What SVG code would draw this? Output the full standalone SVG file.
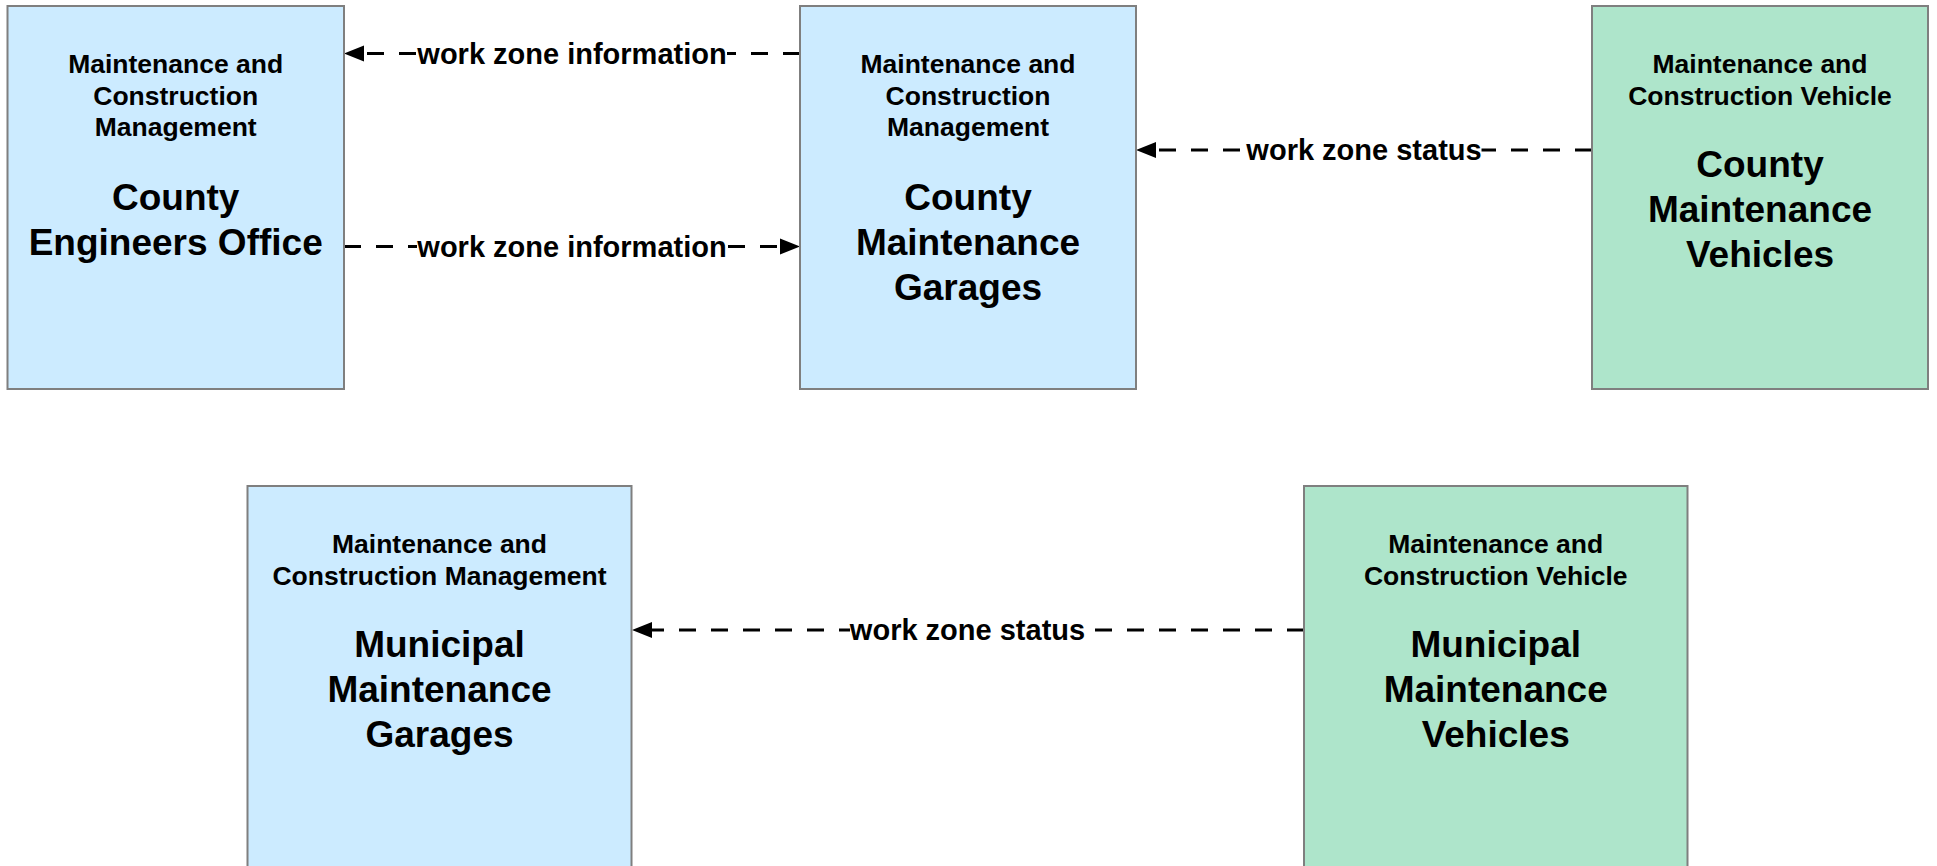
<svg xmlns="http://www.w3.org/2000/svg" width="1937" height="866" viewBox="0 0 1937 866">
<style>
.blue{fill:#CCEBFF;stroke:#7F7F7F;stroke-width:2}
.green{fill:#AEE5CB;stroke:#7F7F7F;stroke-width:2}
text{font-family:"Liberation Sans",Arial,sans-serif;font-weight:bold;fill:#000;text-anchor:middle}
.s{font-size:26.5px}
.b{font-size:37px}
.l{font-size:29px}
.flow{fill:none;stroke:#000;stroke-width:3;stroke-dasharray:17 15;marker-end:url(#ah)}
.bg{fill:#fff}
</style>
<defs>
<marker id="ah" markerUnits="userSpaceOnUse" markerWidth="20" markerHeight="18" viewBox="0 -9 20 18" refX="0" refY="0" orient="auto">
<path d="M0,-8 L20,0 L0,8 z" fill="#000"/>
</marker>
</defs>
<g id="connectors">
<path class="flow" d="M800,53.5 L364,53.5"/>
<rect class="bg" x="417" y="40" width="310" height="28"/>
<text class="l" x="572" y="63.5">work zone information</text>
<path class="flow" d="M344,246.5 L780,246.5"/>
<rect class="bg" x="417" y="233" width="310" height="28"/>
<text class="l" x="572" y="256.5">work zone information</text>
<path class="flow" d="M1592,150 L1156,150"/>
<rect class="bg" x="1246.5" y="136" width="235" height="28"/>
<text class="l" x="1364" y="160">work zone status</text>
<path class="flow" d="M1304,630 L652,630"/>
<rect class="bg" x="850" y="616" width="235" height="28"/>
<text class="l" x="967.5" y="640">work zone status</text>
</g>
<g id="county-engineers-office">
<rect class="blue" x="7.5" y="6" width="336.5" height="383"/>
<text class="s" x="175.7" y="72.5">Maintenance and</text>
<text class="s" x="175.7" y="104.5">Construction</text>
<text class="s" x="175.7" y="136">Management</text>
<text class="b" x="175.7" y="210">County</text>
<text class="b" x="175.7" y="255">Engineers Office</text>
</g>
<g id="county-maintenance-garages">
<rect class="blue" x="800" y="6" width="336" height="383"/>
<text class="s" x="968" y="72.5">Maintenance and</text>
<text class="s" x="968" y="104.5">Construction</text>
<text class="s" x="968" y="136">Management</text>
<text class="b" x="968" y="210">County</text>
<text class="b" x="968" y="255">Maintenance</text>
<text class="b" x="968" y="300">Garages</text>
</g>
<g id="county-maintenance-vehicles">
<rect class="green" x="1592" y="6" width="336" height="383"/>
<text class="s" x="1760" y="72.5">Maintenance and</text>
<text class="s" x="1760" y="104.5">Construction Vehicle</text>
<text class="b" x="1760" y="177">County</text>
<text class="b" x="1760" y="222">Maintenance</text>
<text class="b" x="1760" y="267">Vehicles</text>
</g>
<g id="municipal-maintenance-garages">
<rect class="blue" x="247.5" y="486" width="384" height="400"/>
<text class="s" x="439.5" y="552.5">Maintenance and</text>
<text class="s" x="439.5" y="584.5">Construction Management</text>
<text class="b" x="439.5" y="657">Municipal</text>
<text class="b" x="439.5" y="702">Maintenance</text>
<text class="b" x="439.5" y="747">Garages</text>
</g>
<g id="municipal-maintenance-vehicles">
<rect class="green" x="1304" y="486" width="383.5" height="400"/>
<text class="s" x="1495.7" y="552.5">Maintenance and</text>
<text class="s" x="1495.7" y="584.5">Construction Vehicle</text>
<text class="b" x="1495.7" y="657">Municipal</text>
<text class="b" x="1495.7" y="702">Maintenance</text>
<text class="b" x="1495.7" y="747">Vehicles</text>
</g>
</svg>
